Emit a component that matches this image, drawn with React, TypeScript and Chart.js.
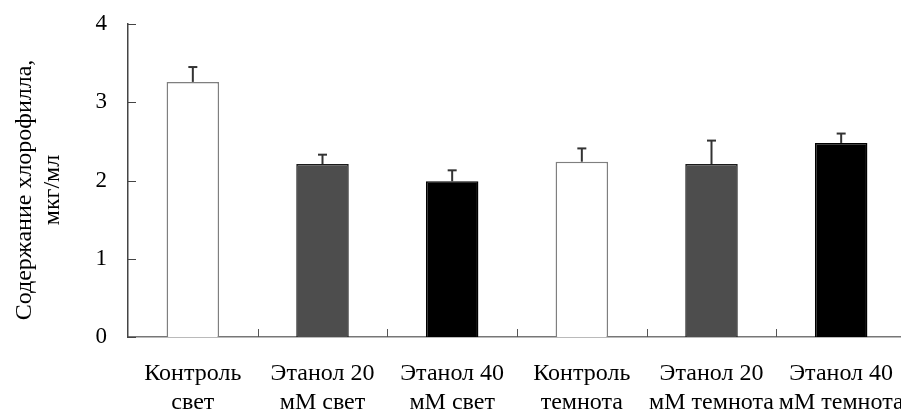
import React, { useEffect, useRef } from "react";
import { Chart, registerables } from "chart.js";

Chart.register(...registerables);

const categories: string[][] = [
  ["Контроль", "свет"],
  ["Этанол 20", "мМ свет"],
  ["Этанол 40", "мМ свет"],
  ["Контроль", "темнота"],
  ["Этанол 20", "мМ темнота"],
  ["Этанол 40", "мМ темнота"],
];
const values = [3.26, 2.21, 1.99, 2.24, 2.21, 2.48];
const errors = [0.19, 0.12, 0.14, 0.17, 0.3, 0.12];
const yTickValues = [0, 1, 2, 3, 4];
const yTitleLines = ["Содержание хлорофилла,", "мкг/мл"];

const fills = ["#ffffff", "#4d4d4d", "#000000", "#ffffff", "#4d4d4d", "#000000"];
const borders = ["#7f7f7f", "#1a1a1a", "#000000", "#7f7f7f", "#1a1a1a", "#000000"];

const FONT = "'Times New Roman', 'Liberation Serif', Times, 'DejaVu Serif', serif";

const customDraw = {
  id: "customDraw",
  afterDatasetsDraw(chart: any) {
    const ctx = chart.ctx;
    const meta = chart.getDatasetMeta(0);
    const y = chart.scales.y;
    ctx.save();
    ctx.strokeStyle = "#333333";
    meta.data.forEach((bar: any, i: number) => {
      const top = y.getPixelForValue(values[i]);
      const errTop = y.getPixelForValue(values[i] + errors[i]);
      ctx.lineWidth = 2;
      ctx.beginPath();
      ctx.moveTo(bar.x, top);
      ctx.lineTo(bar.x, errTop);
      ctx.stroke();
      ctx.beginPath();
      ctx.moveTo(bar.x - 4.5, errTop);
      ctx.lineTo(bar.x + 4.5, errTop);
      ctx.stroke();
    });
    ctx.restore();
  },
  afterDraw(chart: any) {
    const ctx = chart.ctx;
    const x = chart.scales.x;
    const y = chart.scales.y;
    const area = chart.chartArea;
    ctx.save();
    ctx.strokeStyle = "#444444";
    ctx.lineWidth = 1;
    yTickValues.forEach((v) => {
      const py = Math.round(y.getPixelForValue(v)) + 0.5;
      ctx.beginPath();
      ctx.moveTo(area.left, py);
      ctx.lineTo(area.left + 8, py);
      ctx.stroke();
    });
    ctx.strokeStyle = "#555555";
    for (let i = 1; i < categories.length; i++) {
      const px = Math.round((x.getPixelForValue(i - 1) + x.getPixelForValue(i)) / 2) + 0.5;
      ctx.beginPath();
      ctx.moveTo(px, area.bottom);
      ctx.lineTo(px, area.bottom - 8);
      ctx.stroke();
    }
    ctx.fillStyle = "#000000";
    ctx.font = `24px ${FONT}`;
    ctx.textAlign = "center";
    ctx.textBaseline = "middle";
    const cy = 190;
    const xs = [25, 53];
    yTitleLines.forEach((line, i) => {
      ctx.save();
      ctx.translate(xs[i], cy);
      ctx.rotate(-Math.PI / 2);
      ctx.fillText(line, 0, 0);
      ctx.restore();
    });
    ctx.restore();
  },
};

export default function App() {
  const ref = useRef<HTMLCanvasElement | null>(null);
  useEffect(() => {
    if (!ref.current) return;
    const chart = new Chart(ref.current, {
      type: "bar",
      data: {
        labels: categories,
        datasets: [
          {
            data: values,
            backgroundColor: fills,
            borderColor: borders,
            borderWidth: 1.5,
            barPercentage: 0.81,
            categoryPercentage: 0.5,
          },
        ],
      },
      options: {
        animation: false,
        responsive: false,
        devicePixelRatio: 1,
        layout: { padding: { top: 24, left: 0, right: 0, bottom: 0 } },
        plugins: {
          legend: { display: false },
          tooltip: { enabled: false },
        },
        scales: {
          x: {
            grid: { display: false, drawTicks: false },
            border: { display: true, color: "#777777", width: 1.5 },
            ticks: {
              color: "#000000",
              font: { family: FONT, size: 24, lineHeight: 1.18 },
              padding: 23,
              maxRotation: 0,
              autoSkip: false,
            },
            afterFit: (s: any) => {
              s.height = 73;
              s.paddingLeft = 0;
              s.paddingRight = 0;
            },
          },
          y: {
            min: 0,
            max: 4,
            grid: { display: false, drawTicks: false },
            border: { display: true, color: "#444444", width: 1.5 },
            ticks: {
              stepSize: 1,
              color: "#000000",
              font: { family: FONT, size: 23 },
              padding: 21,
            },
            afterFit: (s: any) => {
              s.width = 128;
              s.paddingTop = 0;
              s.paddingBottom = 0;
            },
          },
        },
      },
      plugins: [customDraw],
    });
    return () => chart.destroy();
  }, []);
  return (
    <div
      style={{
        position: "fixed",
        left: 0,
        top: 0,
        width: 901,
        height: 410,
        overflow: "hidden",
        background: "#ffffff",
      }}
    >
      <canvas ref={ref} width={906} height={410} style={{ display: "block" }} />
    </div>
  );
}
